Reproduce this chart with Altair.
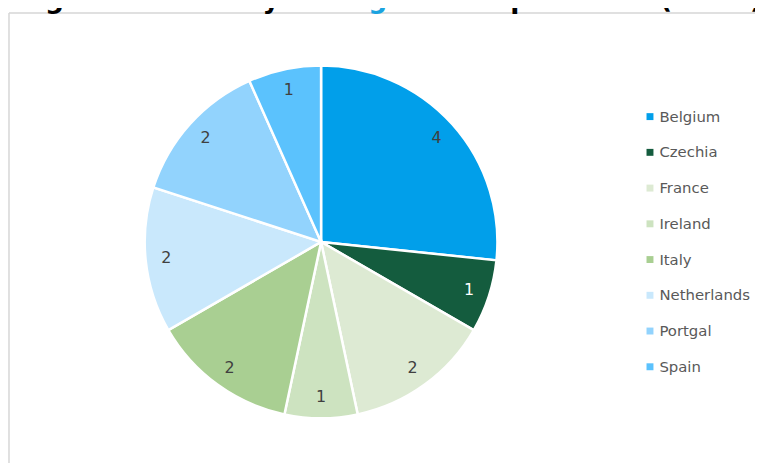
import altair as alt
import pandas as pd

countries = ["Belgium", "Czechia", "France", "Ireland", "Italy", "Netherlands", "Portgal", "Spain"]
counts = [4, 1, 2, 1, 2, 2, 2, 1]
colors = ["#019FEA", "#145C3E", "#DDEAD3", "#CDE3C0", "#A9CF92", "#C9E8FC", "#92D3FD", "#5BC2FD"]
label_colors = ["#404040", "#FFFFFF", "#404040", "#404040", "#404040", "#404040", "#404040", "#404040"]
title_parts = ["Figure 1: Country of ", "origin", "of respondents (n=15)"]

df = pd.DataFrame({"country": countries, "count": counts, "idx": list(range(len(countries))),
                   "lc": label_colors})

CX, CY, R = 316, 234, 178
color_scale = alt.Scale(domain=countries, range=colors)

base = alt.Chart(df)

frame_top = alt.Chart(pd.DataFrame({"a": [0]})).mark_rule(color="#D6D6D6", strokeWidth=1.5).encode(
    x=alt.value(1), x2=alt.value(760), y=alt.value(3))
frame_left = alt.Chart(pd.DataFrame({"a": [0]})).mark_rule(color="#D6D6D6", strokeWidth=1.5).encode(
    x=alt.value(1), y=alt.value(3), y2=alt.value(460))

TY = -2.5
tfont = dict(font="DejaVu Sans", fontSize=26.76, fontWeight="bold", align="left", baseline="alphabetic")
t1 = alt.Chart(pd.DataFrame({"t": [title_parts[0]]})).mark_text(color="#000000", **tfont).encode(
    text="t:N", x=alt.value(10), y=alt.value(TY))
t2 = alt.Chart(pd.DataFrame({"t": [title_parts[1]]})).mark_text(color="#1AA3E0", **tfont).encode(
    text="t:N", x=alt.value(323), y=alt.value(TY))
t3 = alt.Chart(pd.DataFrame({"t": [title_parts[2]]})).mark_text(color="#000000", **tfont).encode(
    text="t:N", x=alt.value(420.5), y=alt.value(TY))

arcs = base.mark_arc(outerRadius=R, x=CX, y=CY, stroke="white", strokeWidth=2.5).encode(
    theta=alt.Theta("count:Q", stack=True),
    color=alt.Color("country:N", scale=color_scale, legend=None),
    order=alt.Order("idx:Q"),
)
labels = base.mark_text(radius=157, x=CX, y=CY, font="DejaVu Sans", fontSize=16,
                        align="center", baseline="middle").encode(
    theta=alt.Theta("count:Q", stack=True),
    text="count:Q",
    color=alt.Color("lc:N", scale=None),
    order=alt.Order("idx:Q"),
)

yscale = alt.Scale(domain=countries, range=[107.5, 360], padding=0)
leg_sym = base.mark_square(size=49, opacity=1).encode(
    x=alt.value(648),
    y=alt.Y("country:N", scale=yscale, axis=None),
    color=alt.Color("country:N", scale=color_scale, legend=None),
)
leg_txt = base.mark_text(align="left", baseline="middle", font="DejaVu Sans", fontSize=15, color="#595959").encode(
    x=alt.value(657.5),
    y=alt.Y("country:N", scale=yscale, axis=None),
    text="country:N",
)

chart = alt.layer(frame_top, frame_left, t1, t2, t3, arcs, labels, leg_sym, leg_txt).properties(
    width=754, height=455, autosize="none", padding=0, background="white"
).configure_view(stroke=None)

chart.save("out.html", embed_options={"renderer": "svg", "actions": False})
